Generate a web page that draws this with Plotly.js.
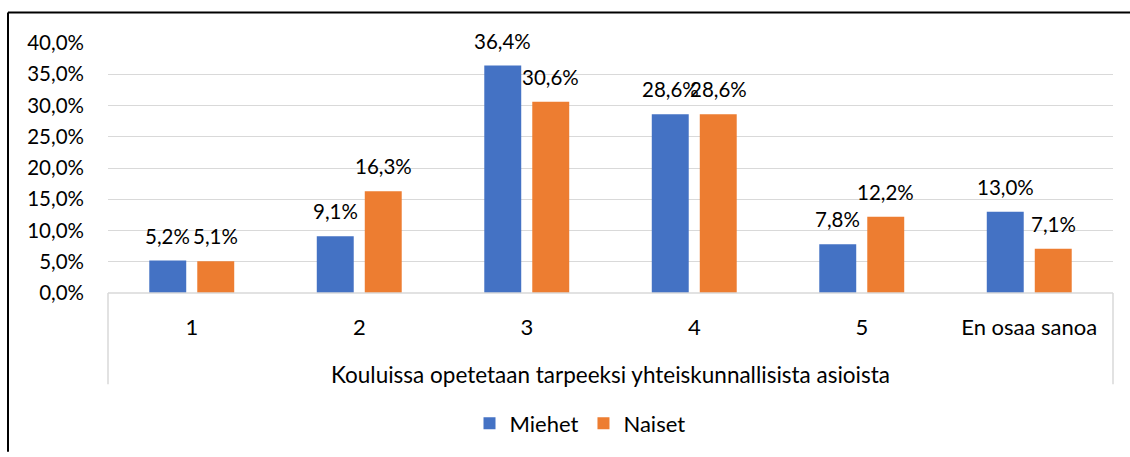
<!DOCTYPE html>
<html><head><meta charset="utf-8">
<script src="https://cdn.plot.ly/plotly-3.0.1.min.js"></script>
<style>html,body{margin:0;padding:0;background:#fff}#c{width:1130px;height:457px}</style>
</head><body><div id="c"></div>
<script>
const categories = ["1", "2", "3", "4", "5", "En osaa sanoa"];
const miehet = [0.052, 0.091, 0.364, 0.286, 0.078, 0.130];
const naiset = [0.051, 0.163, 0.306, 0.286, 0.122, 0.071];
const seriesNames = ["Miehet", "Naiset"];
const yTicks = [0, 0.05, 0.10, 0.15, 0.20, 0.25, 0.30, 0.35, 0.40];
const axisTitle = "Kouluissa opetetaan tarpeeksi yhteiskunnallisista asioista";

const FONT = "Lato, 'Open Sans', sans-serif";
const NUM = 20.5, TXT = 22;
const W = 1130, H = 457, L = 108, R = 17, T = 43, B = 159;
const pw = W - L - R, ph = H - T - B;
const px = x => (x - L) / pw;
const py = y => (H - B - y) / ph;
const BARGAP = 0.427, GROUPGAP = 0.23;
const off = (1 - BARGAP) / 4;
const colors = ['#4472C4', '#ED7D31'];
const seriesVals = [miehet, naiset];

const data = seriesVals.map((vals, i) => ({
  type: 'bar', name: seriesNames[i], x: categories, y: vals,
  marker: {color: colors[i]}, hoverinfo: 'none'
}));

const fmt = v => (v * 100).toFixed(1).replace('.', ',') + '%';
const annotations = [];
seriesVals.forEach((vals, i) => {
  vals.forEach((v, j) => {
    annotations.push({
      xref: 'x', yref: 'y', x: j + (i === 0 ? -off : off), y: v,
      text: fmt(v), showarrow: false, xanchor: 'center', yanchor: 'bottom', yshift: 11,
      font: {family: FONT, size: NUM, color: '#000'}
    });
  });
});

const gray = '#d9d9d9';
const layout = {
  width: W, height: H, margin: {l: L, r: R, t: T, b: B},
  separators: ', ',
  barmode: 'group', bargap: BARGAP, bargroupgap: GROUPGAP,
  paper_bgcolor: '#fff', plot_bgcolor: '#fff',
  font: {family: FONT, size: TXT, color: '#000'},
  xaxis: {type: 'category', showline: false, showgrid: false, ticks: '', ticklabelstandoff: 19,
    tickfont: {family: FONT, size: TXT, color: '#000'},
    title: {text: axisTitle, font: {family: FONT, size: 22.5, color: '#000'}, standoff: 28}},
  yaxis: {range: [0, 0.4], tickvals: yTicks, tickformat: '.1%', showgrid: true, gridcolor: gray, gridwidth: 1,
    zeroline: false, showline: false, ticks: '', ticklabelstandoff: 23,
    tickfont: {family: FONT, size: NUM, color: '#000'}},
  legend: {orientation: 'h', x: px(580), xanchor: 'center', y: py(431), yanchor: 'middle',
    font: {family: FONT, size: TXT, color: '#000'}, itemwidth: 30, traceorder: 'normal'},
  showlegend: true,
  annotations: annotations,
  shapes: [
    {type: 'line', xref: 'paper', yref: 'paper', x0: 0, x1: 1, y0: 0, y1: 0, line: {color: gray, width: 1.5}},
    {type: 'line', xref: 'paper', yref: 'paper', x0: 0, x1: 0, y0: 0, y1: py(391), line: {color: gray, width: 1.5}},
    {type: 'line', xref: 'paper', yref: 'paper', x0: 1, x1: 1, y0: 0, y1: py(391), line: {color: gray, width: 1.5}},
    {type: 'line', xref: 'paper', yref: 'paper', x0: px(8), x1: px(8), y0: py(12), y1: py(460), line: {color: '#000', width: 2}},
    {type: 'line', xref: 'paper', yref: 'paper', x0: px(8), x1: px(1135), y0: py(12), y1: py(12), line: {color: '#000', width: 2}}
  ]
};
Plotly.newPlot('c', data, layout, {displayModeBar: false, staticPlot: true});
</script>
</body></html>
